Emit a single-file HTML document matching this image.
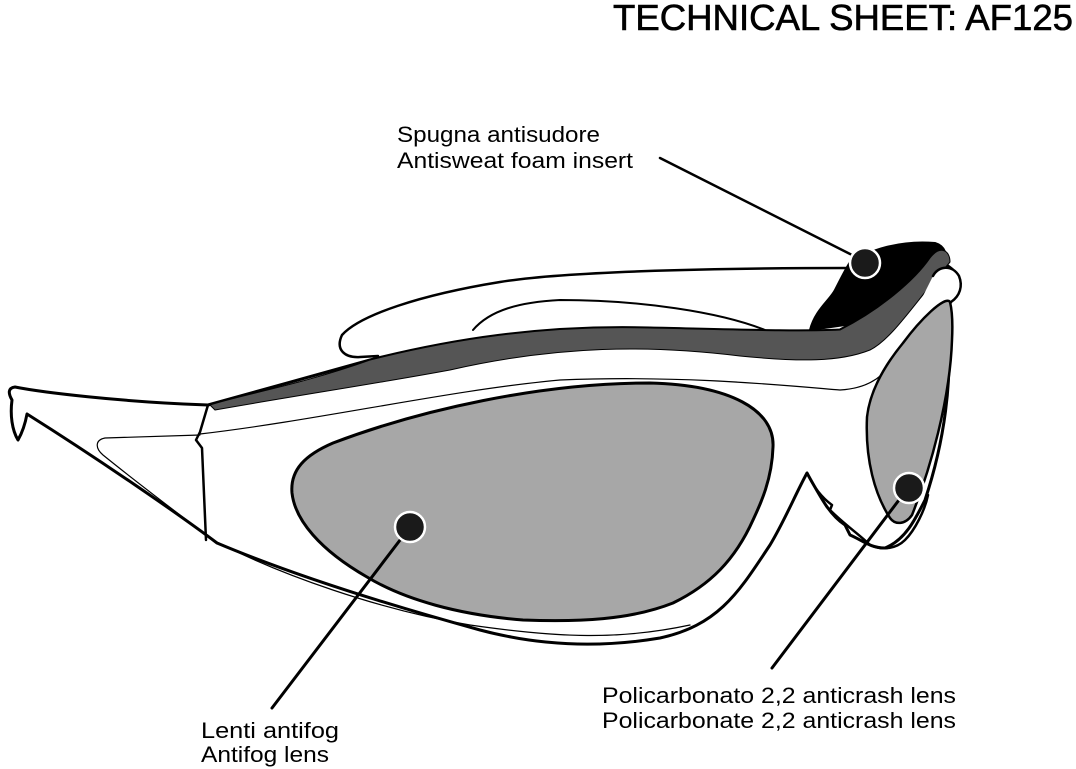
<!DOCTYPE html>
<html><head><meta charset="utf-8"><style>html,body{margin:0;padding:0;background:#fff;}svg{display:block}</style></head>
<body>
<svg width="1076" height="769" viewBox="0 0 1076 769" xmlns="http://www.w3.org/2000/svg" font-family="'Liberation Sans', 'DejaVu Sans', sans-serif">
<rect width="1076" height="769" fill="#fff"/>
<text x="613" y="30" font-size="36" textLength="460" lengthAdjust="spacingAndGlyphs" fill="#000" stroke="#000" stroke-width="0.6">TECHNICAL SHEET: AF125</text>

<g stroke="#000" stroke-linejoin="round" stroke-linecap="round">
<path d="M850,268 C700,268 560,272 500,282 C420,295 360,315 342,335 C335,350 345,358 360,357 L378,356" fill="#fff" stroke-width="2.5"/>
<path d="M473,330 C490,310 520,302 560,300 C640,300 720,312 765,330" fill="none" stroke-width="2"/>
<path d="M810,330 C815,310 830,300 835,290 C840,280 845,270 850,262 C870,250 900,240 935,243 C945,246 948,255 945,265 L880,320 Z" fill="#000" stroke-width="2"/>
<path d="M15,387 C40,392 120,402 208,405 L370,360 C450,340 540,325 650,328 C740,330 800,332 840,330 C880,310 915,280 940,262 C955,268 962,278 958,292 C950,300 945,310 948,330 C952,380 945,440 925,500 C915,520 905,540 885,548 C870,548 862,540 850,535 L845,525 C830,515 822,500 807,473 C795,495 785,520 770,545 C740,590 720,625 660,638 C600,648 540,646 480,630 C400,608 300,578 217,543 C180,515 100,460 27,414 C25,425 22,433 18,440 C12,430 10,415 12,400 C8,393 8,388 15,387 Z" fill="#fff" stroke-width="3"/>
<path d="M210,405 C240,395 300,385 370,360 C450,340 540,325 650,328 C740,330 800,332 840,330 C880,310 915,280 930,258 C940,245 950,250 950,262 L935,280 C910,310 890,340 870,350 C840,362 800,362 740,356 C650,345 560,345 450,370 C380,383 300,395 215,410 Z" fill="#555" stroke-width="1"/>
<path d="M892,358 L933,276 C938,266 952,264 959,276 C963,286 960,296 951,302 L905,355 Z" fill="#fff" stroke="none"/>
<path d="M933,276 C938,266 952,264 959,276 C963,286 960,296 951,302 C935,320 915,338 897,355" fill="none" stroke-width="2.5"/>
<path d="M200,434 C320,420 450,390 560,380 C680,375 780,385 840,390 C875,388 890,370 897,352" fill="none" stroke-width="1.2"/>
<path d="M208,405 L200,432 L196,440 L202,448 L206,540" fill="none" stroke-width="2.5"/>
<path d="M200,435 L105,438 C95,440 95,448 103,455 C140,485 180,515 213,540 C280,575 380,610 470,625 C560,638 620,640 690,625" fill="none" stroke-width="1.2"/>
<path d="M292,493 C290,470 305,455 333,443 C420,410 540,383 650,383 C730,385 775,410 773,447 C772,480 760,505 753,520 C735,560 710,585 673,603 C630,620 580,622 523,620 C460,615 405,600 367,577 C320,550 295,520 292,493 Z" fill="#a7a7a7" stroke-width="3"/>
<path d="M950,302 C945,295 920,320 903,343 C885,365 870,390 867,417 C865,460 875,495 890,518 C895,525 905,525 912,515 C930,470 950,400 952,340 C953,320 952,310 950,302 Z" fill="#a7a7a7" stroke-width="2.5"/>
<path d="M807,473 C815,490 825,500 832,505 L830,510 C845,525 860,535 870,545 C880,550 895,550 905,540 C915,530 925,510 928,495" fill="none" stroke-width="2.5"/>
<line x1="660" y1="158" x2="858" y2="258" stroke-width="2.5"/>
<line x1="410" y1="527" x2="272" y2="708" stroke-width="3"/>
<line x1="905" y1="492" x2="772" y2="668" stroke-width="3"/>
</g>
<g fill="#1a1a1a" stroke="#fff" stroke-width="2.5">
<circle cx="865" cy="263" r="15"/>
<circle cx="410" cy="527" r="15"/>
<circle cx="909" cy="488" r="15"/>
</g>
<g font-size="22" fill="#000">
<text x="397" y="142" textLength="203" lengthAdjust="spacingAndGlyphs">Spugna antisudore</text>
<text x="397" y="168" textLength="236" lengthAdjust="spacingAndGlyphs">Antisweat foam insert</text>
<text x="602" y="703" textLength="354" lengthAdjust="spacingAndGlyphs">Policarbonato 2,2 anticrash lens</text>
<text x="602" y="728" textLength="354" lengthAdjust="spacingAndGlyphs">Policarbonate 2,2 anticrash lens</text>
<text x="201" y="738" textLength="138" lengthAdjust="spacingAndGlyphs">Lenti antifog</text>
<text x="201" y="762" textLength="128" lengthAdjust="spacingAndGlyphs">Antifog lens</text>
</g>
</svg>
</body></html>
